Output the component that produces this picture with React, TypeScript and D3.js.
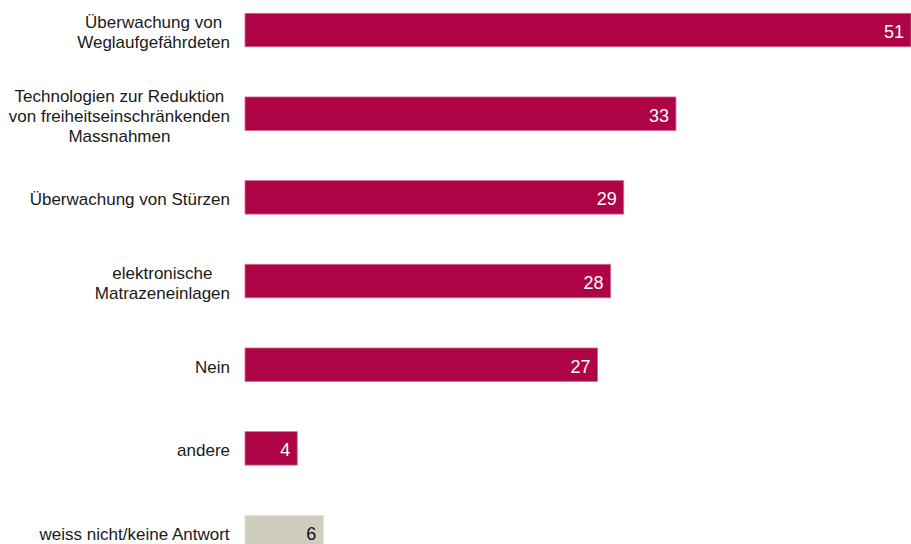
import React from "react";
import * as d3 from "d3";

const categories: string[] = [
  "Überwachung von\nWeglaufgefährdeten",
  "Technologien zur Reduktion\nvon freiheitseinschränkenden\nMassnahmen",
  "Überwachung von Stürzen",
  "elektronische\nMatrazeneinlagen",
  "Nein",
  "andere",
  "weiss nicht/keine Antwort",
];
const values: number[] = [51, 33, 29, 28, 27, 4, 6];
const barColors: string[] = ["#AE0446", "#AE0446", "#AE0446", "#AE0446", "#AE0446", "#AE0446", "#CFCEBC"];
const valueColors: string[] = ["#ffffff", "#ffffff", "#ffffff", "#ffffff", "#ffffff", "#ffffff", "#111111"];

const W = 911;
const H = 544;
const FONT = "Liberation Sans, Arial, sans-serif";
const LABEL_SIZE = 17;
const VALUE_SIZE = 18;
const LINE_H = 20;

let ctx: CanvasRenderingContext2D | null = null;
function measure(t: string, size: number): number {
  if (!ctx) ctx = document.createElement("canvas").getContext("2d");
  if (!ctx) return t.length * size * 0.5;
  ctx.font = `${size}px ${FONT}`;
  return ctx.measureText(t).width;
}

export default function App() {
  const x = d3.scaleLinear().domain([0, 51]).range([245, 911]);
  const y = d3
    .scaleBand<string>()
    .domain(categories)
    .range([-11.8, 573.9])
    .paddingInner(0.6)
    .paddingOuter(0.3);
  const bh = y.bandwidth();
  const labelRight = 230;

  return (
    <svg
      width={W}
      height={H}
      style={{ position: "absolute", left: 0, top: 0, display: "block", background: "#fff" }}
      fontFamily={FONT}
    >
      {categories.map((c, i) => {
        const y0 = y(c) as number;
        const cy = y0 + bh / 2;
        const lines = c.split("\n");
        const maxW = Math.max(...lines.map((l) => measure(l, LABEL_SIZE)));
        const cx = labelRight - maxW / 2;
        const firstY = cy - ((lines.length - 1) * LINE_H) / 2;
        return (
          <g key={c}>
            <rect
              x={x(0)}
              y={y0}
              width={x(values[i]) - x(0)}
              height={bh}
              fill={barColors[i]}
              stroke={i < 6 ? "#d46a92" : "#e2e1d4"}
              strokeWidth={0.8}
            />
            <text
              x={x(values[i]) - 7}
              y={cy}
              dy="0.44em"
              textAnchor="end"
              fontSize={VALUE_SIZE}
              fill={valueColors[i]}
            >
              {values[i]}
            </text>
            {lines.map((l, j) => (
              <text
                key={j}
                x={cx}
                y={firstY + j * LINE_H}
                dy="0.46em"
                textAnchor="middle"
                fontSize={LABEL_SIZE}
                fill="#1a1a1a"
              >
                {l}
              </text>
            ))}
          </g>
        );
      })}
    </svg>
  );
}
